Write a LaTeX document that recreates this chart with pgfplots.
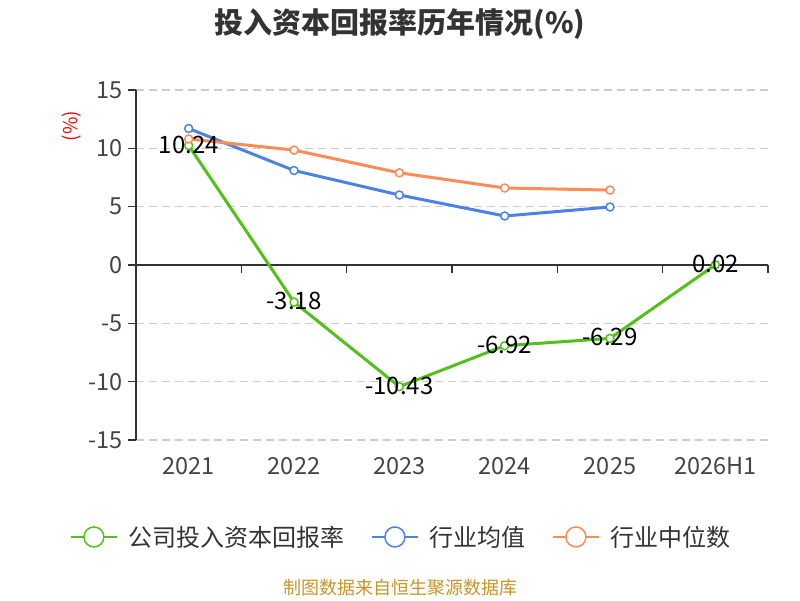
\documentclass[border=0pt]{standalone}
\usepackage{pgfplots}
\pgfplotsset{compat=1.18}
\usepackage{fontspec}
\setmainfont{Noto Sans CJK SC}
\definecolor{cgreen}{RGB}{82,194,26}
\definecolor{cblue}{RGB}{76,130,230}
\definecolor{corange}{RGB}{255,140,85}
\definecolor{axcol}{RGB}{51,51,51}
\definecolor{tickcol}{RGB}{68,68,68}
\definecolor{gridcol}{RGB}{204,204,204}
\definecolor{footcol}{RGB}{200,148,40}
\begin{document}
\begin{tikzpicture}
\path[use as bounding box] (0pt,0pt) rectangle (800pt,600pt);
\begin{axis}[
  at={(136pt,160pt)}, anchor=south west,
  scale only axis, width=632pt, height=350pt,
  xmin=-0.5, xmax=5.5, ymin=-15, ymax=15,
  xtick={0,...,5},
  xticklabels={2021,2022,2023,2024,2025,2026H1},
  ytick={-15,-10,...,15},
  /pgf/number format/assume math mode=true,
  axis y line*=left, axis x line*=bottom,
  x axis line style={draw=none},
  y axis line style={axcol, line width=1.3pt},
  xtick style={draw=none},
  ytick style={axcol, line width=1.3pt},
  tick align=outside, major tick length=8pt,
  ymajorgrids,
  grid style={gridcol, line width=1.4pt, dash pattern=on 8pt off 5pt},
  ticklabel style={font=\fontsize{23.5}{27}\selectfont, color=tickcol},
  xticklabel style={yshift=-6pt},
  yticklabel style={xshift=-2pt},
  legend columns=3,
  legend style={at={(0.42,-0.277)}, anchor=center, draw=none, fill=none,
    font=\fontsize{24}{28}\selectfont, text=axcol,
    /tikz/every even column/.append style={column sep=24pt},
    /tikz/every odd column/.append style={column sep=9pt}},
  legend image code/.code={
    \draw[#1, mark=none, line width=2pt] (0pt,0pt) -- (46pt,0pt);
    \draw[#1, mark=none, line width=1.5pt, fill=white] (23pt,0pt) circle (10pt);},
  clip=false,
]
\draw[axcol, line width=1.3pt] (axis cs:-0.5,0) -- (axis cs:5.5,0);
\draw[axcol, line width=1.3pt] (axis cs:0.5,0) -- ++(0pt,-8pt);
\draw[axcol, line width=1.3pt] (axis cs:1.5,0) -- ++(0pt,-8pt);
\draw[axcol, line width=1.3pt] (axis cs:2.5,0) -- ++(0pt,-8pt);
\draw[axcol, line width=1.3pt] (axis cs:3.5,0) -- ++(0pt,-8pt);
\draw[axcol, line width=1.3pt] (axis cs:4.5,0) -- ++(0pt,-8pt);
\draw[axcol, line width=1.3pt] (axis cs:5.5,0) -- ++(0pt,-8pt);
\addplot[cgreen, line width=3pt, mark=*, mark size=4pt,
  mark options={fill=white, line width=1.5pt},
  nodes near coords, point meta=explicit symbolic,
  every node near coord/.style={anchor=center, yshift=1pt, font=\fontsize{24}{28}\selectfont, text=black}]
  coordinates {(0,10.24)[10.24] (1,-3.18)[-3.18] (2,-10.43)[-10.43] (3,-6.92)[-6.92] (4,-6.29)[-6.29] (5,0.02)[0.02]};
\addlegendentry{公司投入资本回报率}
\addplot[cblue, line width=3pt, mark=*, mark size=4pt,
  mark options={fill=white, line width=1.5pt}]
  coordinates {(0,11.7) (1,8.1) (2,6.0) (3,4.2) (4,4.97)};
\addlegendentry{行业均值}
\addplot[corange, line width=3pt, mark=*, mark size=4pt,
  mark options={fill=white, line width=1.5pt}]
  coordinates {(0,10.8) (1,9.85) (2,7.9) (3,6.6) (4,6.42)};
\addlegendentry{行业中位数}
\end{axis}
\node[font=\bfseries\fontsize{29}{34}\selectfont, text=axcol] at (400pt,576pt) {投入资本回报率历年情况(\%)};
\node[rotate=90, font=\fontsize{19}{22}\selectfont, text=red] at (72pt,474pt) {(\%)};
\node[font=\fontsize{18}{21}\selectfont, text=footcol] at (400pt,12pt) {制图数据来自恒生聚源数据库};
\end{tikzpicture}
\end{document}
